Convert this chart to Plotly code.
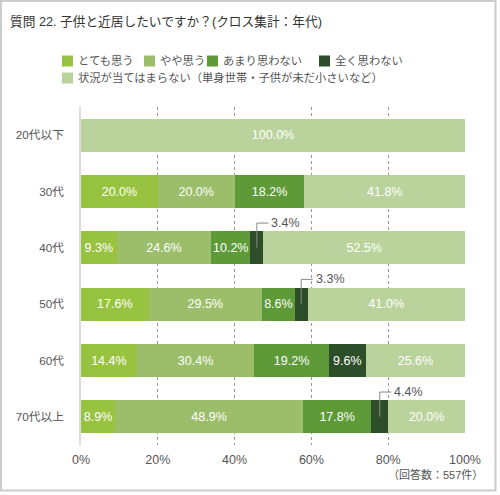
import plotly.graph_objects as go

categories = ["20代以下", "30代", "40代", "50代", "60代", "70代以上"]
series_names = ["とても思う", "やや思う", "あまり思わない", "全く思わない",
                "状況が当てはまらない（単身世帯・子供が未だ小さいなど）"]
s_very = [0.0, 20.0, 9.3, 17.6, 14.4, 8.9]
s_some = [0.0, 20.0, 24.6, 29.5, 30.4, 48.9]
s_notmuch = [0.0, 18.2, 10.2, 8.6, 19.2, 17.8]
s_notatall = [0.0, 0.0, 3.4, 3.3, 9.6, 4.4]
s_na = [100.0, 41.8, 52.5, 41.0, 25.6, 20.0]
series_values = [s_very, s_some, s_notmuch, s_notatall, s_na]
x_ticks = [0, 20, 40, 60, 80, 100]
x_ticklabels = ["0%", "20%", "40%", "60%", "80%", "100%"]

colors = ["#98c341", "#9cbe6b", "#5e9a38", "#2e4e2a", "#bad39c"]
FONT = "Liberation Sans, Noto Sans CJK JP, sans-serif"

W, H = 500, 495
L, R, T, B = 81, 35, 107, 50
PW, PH = W - L - R, H - T - B

def px(x):
    return (x - L) / PW

def py(y):
    return 1 - (y - T) / PH

fig = go.Figure()
for si, (name, vals) in enumerate(zip(series_names, series_values)):
    texts = [f"{v:.1f}%" if v >= 5 else "" for v in vals]
    fig.add_trace(go.Bar(
        y=categories, x=vals, orientation="h", name=name,
        marker=dict(color=colors[si], line=dict(width=0)),
        text=texts, textposition="inside", insidetextanchor="middle", textangle=0,
        textfont=dict(color="white", size=12.5, family=FONT),
        showlegend=False, hoverinfo="skip",
    ))

shapes = []
annotations = []
for ci, cat in enumerate(categories):
    total = sum(series_values[s][ci] for s in range(len(series_values)))
    cum = 0.0
    for si in range(len(series_values)):
        v = series_values[si][ci]
        nv = v / total * 100
        if 0 < v < 5:
            c = cum + nv / 2
            yt = ci - 0.44
            shapes.append(dict(type="line", xref="x", yref="y", x0=c, x1=c, y0=ci, y1=yt,
                               line=dict(color="#888", width=1)))
            shapes.append(dict(type="line", xref="x", yref="y", x0=c, x1=c + 3.0, y0=yt, y1=yt,
                               line=dict(color="#888", width=1)))
            annotations.append(dict(xref="x", yref="y", x=c + 3.2, y=yt, text=f"{v:.1f}%",
                                    showarrow=False, xanchor="left", yanchor="middle",
                                    font=dict(size=12.5, color="#555", family=FONT)))
        cum += nv

# manual legend
leg_pos = [(62, 61), (144, 61), (207, 61), (319, 61), (62, 78)]
for si, name in enumerate(series_names):
    x0, yc = leg_pos[si]
    shapes.append(dict(type="rect", xref="paper", yref="paper",
                       x0=px(x0), x1=px(x0 + 11), y0=py(yc - 5.5), y1=py(yc + 5.5),
                       fillcolor=colors[si], line=dict(width=0)))
    annotations.append(dict(xref="paper", yref="paper", x=px(x0 + 14), y=py(yc), text=name,
                            showarrow=False, xanchor="left", yanchor="middle",
                            font=dict(size=11.3, color="#555", family=FONT)))

annotations.append(dict(xref="paper", yref="paper", x=px(8), y=py(22),
                        text="質問 22. 子供と近居したいですか？(クロス集計：年代)",
                        showarrow=False, xanchor="left", yanchor="middle",
                        font=dict(size=12.7, color="#333", family=FONT)))
annotations.append(dict(xref="paper", yref="paper", x=px(485), y=py(474),
                        text="（回答数：557件）", showarrow=False, xanchor="right", yanchor="middle",
                        font=dict(size=11, color="#555", family=FONT)))
shapes.append(dict(type="rect", xref="paper", yref="paper", layer="above",
                   x0=px(1), x1=px(495.5), y0=py(1), y1=py(490.5),
                   line=dict(color="#cccccc", width=2)))

fig.update_layout(
    width=W, height=H, barmode="stack", barnorm="percent", bargap=0.41,
    margin=dict(l=L, r=R, t=T, b=B, pad=0),
    paper_bgcolor="white", plot_bgcolor="white",
    font=dict(family=FONT, color="#555", size=12),
    uniformtext=dict(mode="show", minsize=12.5),
    shapes=shapes, annotations=annotations,
    xaxis=dict(range=[0, 100], tickvals=x_ticks, ticktext=x_ticklabels,
               showgrid=True, gridcolor="#999", griddash="dot", gridwidth=1,
               zeroline=False, showline=False, ticks="", ticklabelstandoff=5,
               tickfont=dict(size=12.5, color="#555"), fixedrange=True),
    yaxis=dict(autorange="reversed", showgrid=False, zeroline=False,
               showline=True, linecolor="#dddddd", linewidth=1.5,
               ticks="", ticklabelstandoff=13, tickfont=dict(size=11.7, color="#555"),
               fixedrange=True),
)

fig.write_html("out.html", config={"displayModeBar": False},
               post_script="document.body.style.margin='0';document.body.style.padding='0';")
